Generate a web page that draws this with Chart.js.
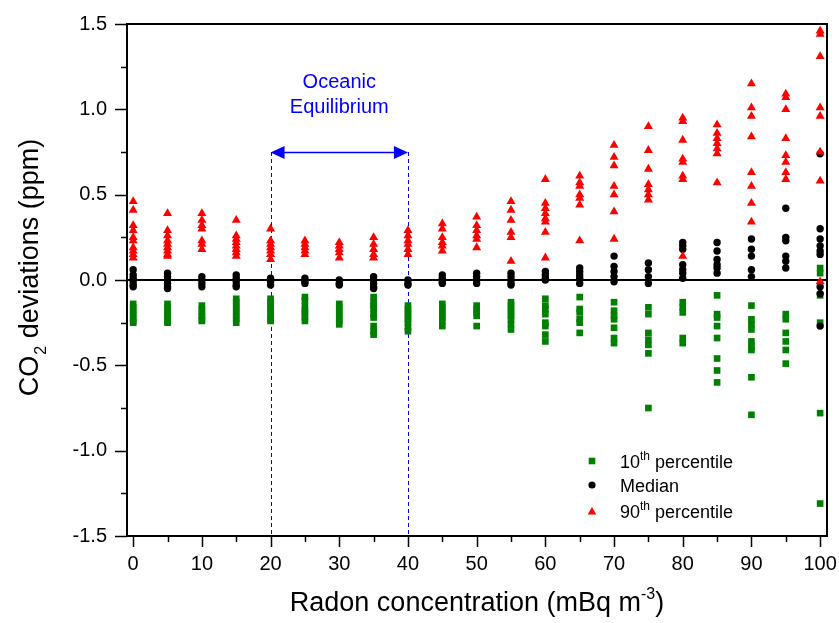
<!DOCTYPE html>
<html>
<head>
<meta charset="utf-8">
<script src="https://cdn.jsdelivr.net/npm/chart.js@4/dist/chart.umd.min.js"></script>
<style>
html,body{margin:0;padding:0;background:#fff;}
#c{display:block;}
</style>
</head>
<body>
<canvas id="c" width="839" height="623"></canvas>
<script>
// ---- data ----
const radonLevels = [0,5,10,15,20,25,30,35,40,45,50,55,60,65,70,75,80,85,90,95,100];
const xTickLabels = [0,10,20,30,40,50,60,70,80,90,100];
const yTickLabels = [-1.5,-1.0,-0.5,0.0,0.5,1.0,1.5];

const p90Values = [
  [0.46,0.41,0.32,0.29,0.25,0.23,0.19,0.17,0.15,0.13],
  [0.39,0.29,0.26,0.23,0.21,0.19,0.17,0.15,0.14],
  [0.39,0.35,0.32,0.30,0.23,0.21,0.18],
  [0.35,0.26,0.24,0.22,0.20,0.18,0.16,0.14],
  [0.30,0.23,0.21,0.19,0.17,0.15,0.12],
  [0.23,0.21,0.19,0.17,0.15],
  [0.22,0.20,0.18,0.16,0.13],
  [0.25,0.21,0.18,0.15,0.13],
  [0.29,0.26,0.23,0.21,0.18,0.15],
  [0.33,0.30,0.25,0.22,0.20,0.17],
  [0.37,0.32,0.29,0.26,0.24,0.19],
  [0.46,0.41,0.35,0.28,0.25,0.11],
  [0.59,0.45,0.42,0.39,0.36,0.34,0.28,0.13],
  [0.61,0.57,0.55,0.50,0.48,0.44,0.23],
  [0.79,0.72,0.67,0.55,0.50,0.40,0.24],
  [0.90,0.76,0.65,0.56,0.53,0.50,0.47],
  [0.95,0.93,0.82,0.71,0.69,0.61,0.59,0.14],
  [0.91,0.86,0.83,0.80,0.77,0.74,0.57],
  [1.15,1.01,0.96,0.84,0.63,0.55,0.45,0.34],
  [1.09,1.07,1.00,0.83,0.73,0.69,0.63,0.59],
  [1.46,1.44,1.31,1.01,0.96,0.75,0.58,-0.01]
];

const medianValues = [
  [0.06,0.03,0.01,-0.01,-0.03,-0.04],
  [0.04,0.02,0.00,-0.02,-0.04,-0.05],
  [0.02,0.00,-0.02,-0.04],
  [0.03,0.01,-0.01,-0.03,-0.04],
  [0.01,-0.01,-0.03],
  [0.01,-0.01,-0.02],
  [0.00,-0.02,-0.03],
  [0.02,0.00,-0.02,-0.04,-0.05],
  [0.00,-0.02,-0.03],
  [0.03,0.01,-0.01,-0.02],
  [0.04,0.02,0.00,-0.02],
  [0.04,0.02,0.00,-0.02,-0.03],
  [0.05,0.03,0.01,0.00],
  [0.07,0.05,0.03,0.01,-0.02],
  [0.14,0.08,0.05,0.02,-0.01],
  [0.10,0.06,0.02,-0.02],
  [0.22,0.20,0.18,0.09,0.06,0.04,0.01],
  [0.22,0.17,0.12,0.09,0.07,0.04],
  [0.24,0.18,0.14,0.06,0.02],
  [0.42,0.25,0.23,0.14,0.11,0.07],
  [0.74,0.30,0.24,0.20,0.17,0.15,-0.04,-0.08,-0.27]
];

const p10Values = [
  [-0.14,-0.16,-0.18,-0.20,-0.22,-0.24,-0.25],
  [-0.14,-0.16,-0.18,-0.20,-0.22,-0.24,-0.25],
  [-0.15,-0.17,-0.19,-0.21,-0.23,-0.24],
  [-0.11,-0.13,-0.15,-0.17,-0.19,-0.21,-0.23,-0.25],
  [-0.11,-0.13,-0.15,-0.17,-0.19,-0.21,-0.23,-0.24],
  [-0.10,-0.12,-0.155,-0.18,-0.195,-0.22,-0.24],
  [-0.14,-0.16,-0.18,-0.20,-0.22,-0.24,-0.26],
  [-0.10,-0.13,-0.15,-0.17,-0.20,-0.22,-0.27,-0.30,-0.32],
  [-0.15,-0.17,-0.19,-0.21,-0.23,-0.25,-0.28,-0.30],
  [-0.14,-0.16,-0.18,-0.20,-0.22,-0.24,-0.27],
  [-0.15,-0.17,-0.19,-0.21,-0.27],
  [-0.13,-0.15,-0.17,-0.19,-0.21,-0.23,-0.26,-0.29],
  [-0.11,-0.15,-0.17,-0.20,-0.25,-0.27,-0.32,-0.36],
  [-0.10,-0.17,-0.19,-0.23,-0.25,-0.31],
  [-0.13,-0.18,-0.21,-0.23,-0.28,-0.34,-0.37],
  [-0.16,-0.20,-0.31,-0.35,-0.38,-0.43,-0.75],
  [-0.13,-0.16,-0.19,-0.34,-0.37],
  [-0.09,-0.20,-0.22,-0.27,-0.34,-0.46,-0.53,-0.60],
  [-0.15,-0.23,-0.26,-0.29,-0.36,-0.39,-0.41,-0.57,-0.79],
  [-0.20,-0.23,-0.31,-0.36,-0.41,-0.49],
  [0.07,0.04,-0.09,-0.25,-0.78,-1.31]
];

// annotation: oceanic equilibrium band
const eqRange = [20, 40];
const eqArrowLevel = 0.75;

// ---- build ----
const FONT = '"Liberation Sans", Arial, sans-serif';
const toPoints = cols => cols.flatMap((vals, i) => vals.map(v => ({x: radonLevels[i], y: v})));

function drawTri(ctx, x, y, r) {
  ctx.beginPath();
  for (let k = 0; k < 3; k++) {
    const a = k * 2 * Math.PI / 3;
    const px = x + Math.sin(a) * r, py = y - Math.cos(a) * r;
    if (k === 0) ctx.moveTo(px, py); else ctx.lineTo(px, py);
  }
  ctx.closePath();
  ctx.fill();
}

const decor = {
  id: 'decor',
  beforeDatasetsDraw(chart) {
    const {ctx, chartArea: a, scales: {x, y}} = chart;
    ctx.save();
    const y0 = Math.round(y.getPixelForValue(0));
    ctx.strokeStyle = '#000';
    ctx.lineWidth = 2;
    ctx.beginPath();
    ctx.moveTo(a.left, y0); ctx.lineTo(a.right, y0); ctx.stroke();
    const ya = y.getPixelForValue(eqArrowLevel);
    ctx.strokeStyle = '#0000ff';
    ctx.lineWidth = 1;
    ctx.setLineDash([4, 3]);
    eqRange.forEach(v => {
      const px = Math.round(x.getPixelForValue(v)) + 0.5;
      ctx.beginPath(); ctx.moveTo(px, ya); ctx.lineTo(px, a.bottom); ctx.stroke();
    });
    ctx.setLineDash([]);
    ctx.restore();
  },
  afterDraw(chart) {
    const {ctx, chartArea: a, scales: {x, y}} = chart;
    ctx.save();
    ctx.strokeStyle = '#000';
    ctx.lineWidth = 2;
    ctx.strokeRect(a.left, a.top, a.right - a.left, a.bottom - a.top);
    ctx.lineWidth = 1.5;
    ctx.beginPath();
    xTickLabels.forEach((v, i) => {
      const px = Math.round(x.getPixelForValue(v)) + 0.5;
      ctx.moveTo(px, a.bottom); ctx.lineTo(px, a.bottom + 11);
      if (i < xTickLabels.length - 1) {
        const mv = (v + xTickLabels[i + 1]) / 2;
        const mx = Math.round(x.getPixelForValue(mv)) + 0.5;
        ctx.moveTo(mx, a.bottom); ctx.lineTo(mx, a.bottom + 6);
      }
    });
    yTickLabels.forEach((v, i) => {
      const py = Math.round(y.getPixelForValue(v)) + 0.5;
      ctx.moveTo(a.left, py); ctx.lineTo(a.left - 12, py);
      if (i < yTickLabels.length - 1) {
        const mv = (v + yTickLabels[i + 1]) / 2;
        const my = Math.round(y.getPixelForValue(mv)) + 0.5;
        ctx.moveTo(a.left, my); ctx.lineTo(a.left - 6, my);
      }
    });
    ctx.stroke();

    const ya = Math.round(y.getPixelForValue(eqArrowLevel)) + 0.5;
    const xl = x.getPixelForValue(eqRange[0]), xr = x.getPixelForValue(eqRange[1]);
    ctx.strokeStyle = '#0000ff';
    ctx.fillStyle = '#0000ff';
    ctx.lineWidth = 1.5;
    ctx.beginPath(); ctx.moveTo(xl + 10, ya); ctx.lineTo(xr - 10, ya); ctx.stroke();
    ctx.beginPath(); ctx.moveTo(xl, ya); ctx.lineTo(xl + 14, ya - 6.5); ctx.lineTo(xl + 14, ya + 6.5); ctx.closePath(); ctx.fill();
    ctx.beginPath(); ctx.moveTo(xr, ya); ctx.lineTo(xr - 14, ya - 6.5); ctx.lineTo(xr - 14, ya + 6.5); ctx.closePath(); ctx.fill();
    const xc = x.getPixelForValue((eqRange[0] + eqRange[1]) / 2);
    ctx.font = '20px ' + FONT;
    ctx.textAlign = 'center';
    ctx.textBaseline = 'alphabetic';
    ctx.fillText('Oceanic', xc, ya - 65);
    ctx.fillText('Equilibrium', xc, ya - 40);

    const lx = 592, tx = 620;
    const rows = [
      {y: 461, base: '10', sup: 'th', rest: ' percentile', kind: 'rect', color: '#008000'},
      {y: 485, base: 'Median', sup: '', rest: '', kind: 'circle', color: '#000000'},
      {y: 511, base: '90', sup: 'th', rest: ' percentile', kind: 'tri', color: '#ff0000'}
    ];
    ctx.textAlign = 'left';
    rows.forEach(r => {
      ctx.fillStyle = r.color;
      if (r.kind === 'rect') ctx.fillRect(lx - 3.3, r.y - 3.3, 6.6, 6.6);
      else if (r.kind === 'circle') { ctx.beginPath(); ctx.arc(lx, r.y, 3.6, 0, Math.PI * 2); ctx.fill(); }
      else drawTri(ctx, lx, r.y + 1, 5);
      ctx.fillStyle = '#000';
      const bl = r.y + 6.5;
      ctx.font = '18px ' + FONT;
      let cx = tx;
      ctx.fillText(r.base, cx, bl); cx += ctx.measureText(r.base).width;
      if (r.sup) {
        ctx.font = '12px ' + FONT;
        ctx.fillText(r.sup, cx, bl - 8); cx += ctx.measureText(r.sup).width;
      }
      if (r.rest) {
        ctx.font = '18px ' + FONT;
        ctx.fillText(r.rest, cx, bl);
      }
    });

    ctx.fillStyle = '#000';
    const big = '27px ' + FONT, small = '16px ' + FONT;
    ctx.font = big;
    const t1 = 'Radon concentration (mBq m', t3 = ')';
    const w1 = ctx.measureText(t1).width, w3 = ctx.measureText(t3).width;
    ctx.font = small;
    const t2 = '-3';
    const w2 = ctx.measureText(t2).width;
    let sx = (a.left + a.right) / 2 - (w1 + w2 + w3) / 2;
    const xb = 611;
    ctx.font = big; ctx.fillText(t1, sx, xb); sx += w1;
    ctx.font = small; ctx.fillText(t2, sx, xb - 12); sx += w2;
    ctx.font = big; ctx.fillText(t3, sx, xb);

    ctx.save();
    ctx.translate(38, 268);
    ctx.rotate(-Math.PI / 2);
    ctx.font = big;
    const u1 = 'CO', u3 = ' deviations (ppm)';
    const v1 = ctx.measureText(u1).width, v3 = ctx.measureText(u3).width;
    ctx.font = small;
    const u2 = '2';
    const v2 = ctx.measureText(u2).width;
    let sy = -(v1 + v2 + v3) / 2;
    ctx.font = big; ctx.fillText(u1, sy, 0); sy += v1;
    ctx.font = small; ctx.fillText(u2, sy + 1, 8); sy += v2 + 1;
    ctx.font = big; ctx.fillText(u3, sy, 0);
    ctx.restore();

    ctx.restore();
  }
};

new Chart(document.getElementById('c').getContext('2d'), {
  type: 'scatter',
  data: {
    datasets: [
      {label: '90th percentile', data: toPoints(p90Values), pointStyle: 'triangle', pointRadius: 5.2,
       backgroundColor: '#ff0000', borderColor: '#ff0000', borderWidth: 0},
      {label: 'Median', data: toPoints(medianValues), pointStyle: 'circle', pointRadius: 3.7,
       backgroundColor: '#000000', borderColor: '#000000', borderWidth: 0},
      {label: '10th percentile', data: toPoints(p10Values), pointStyle: 'rect', pointRadius: 4.7,
       backgroundColor: '#008000', borderColor: '#008000', borderWidth: 0}
    ]
  },
  options: {
    responsive: false,
    animation: false,
    events: [],
    layout: {padding: {top: 24, right: 12, left: 0, bottom: 0}},
    plugins: {legend: {display: false}, tooltip: {enabled: false}},
    scales: {
      x: {
        type: 'linear', min: -0.9, max: 101,
        grid: {display: false, drawTicks: false},
        border: {display: false},
        afterBuildTicks: s => { s.ticks = xTickLabels.map(v => ({value: v})); },
        afterFit: s => { s.height = 87; s.paddingLeft = 0; s.paddingRight = 0; },
        ticks: {padding: 16, color: '#000', font: {family: FONT, size: 20}, maxRotation: 0, autoSkip: false,
                callback: v => String(v)}
      },
      y: {
        type: 'linear', min: -1.5, max: 1.5,
        grid: {display: false, drawTicks: false},
        border: {display: false},
        afterBuildTicks: s => { s.ticks = yTickLabels.map(v => ({value: v})); },
        afterFit: s => { s.width = 127; s.paddingTop = 0; s.paddingBottom = 0; },
        ticks: {padding: 20, color: '#000', font: {family: FONT, size: 20}, autoSkip: false,
                callback: v => Number(v).toFixed(1)}
      }
    }
  },
  plugins: [decor]
});
</script>
</body>
</html>
